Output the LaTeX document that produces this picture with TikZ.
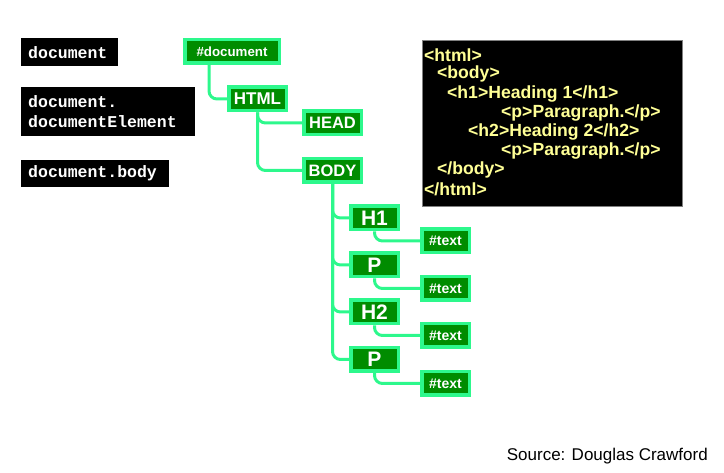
\documentclass[tikz,border=0pt]{standalone}
\usepackage{fontspec}
\setmainfont{Liberation Sans}
\setmonofont{Liberation Mono}
\definecolor{lgreen}{RGB}{45,248,140}
\definecolor{dgreen}{RGB}{0,140,0}
\definecolor{codey}{RGB}{255,255,150}
\tikzset{
  gnode/.style={draw=lgreen, line width=3.5pt, fill=dgreen, text=white, inner sep=0pt, minimum height=23.5pt},
  conn/.style={draw=lgreen, line width=3pt, rounded corners=8pt},
  blk/.style={fill=black, text=white, font=\ttfamily\bfseries\fontsize{16.5}{20}\selectfont, inner xsep=7pt, inner ysep=0pt, align=left, anchor=north west},
  codeline/.style={text=codey, font=\bfseries\fontsize{17.6}{19}\selectfont, inner sep=0pt, anchor=west}
}
\begin{document}
\begin{tikzpicture}[x=1pt,y=1pt]
\useasboundingbox (0,0) rectangle (724,-473);
% left labels
\node[blk, minimum width=97, minimum height=28, text width=83] (l1) at (21,-38) {document};
\node[blk, minimum width=174, minimum height=49, text width=160] (l2) at (21,-87) {document.\\documentElement};
\node[blk, minimum width=148, minimum height=27, text width=134] (l3) at (21,-160) {document.body};
% tree nodes
\node[gnode, minimum width=94.5, font=\bfseries\fontsize{13.3}{15}\selectfont] (doc) at (232,-51.5) {\#document};
\node[gnode, minimum width=57.5, font=\bfseries\fontsize{17}{19}\selectfont] (html) at (257.5,-99) {HTML};
\node[gnode, minimum width=57.5, font=\bfseries\fontsize{16.5}{19}\selectfont] (head) at (332.5,-123) {HEAD};
\node[gnode, minimum width=57.5, font=\bfseries\fontsize{16.5}{19}\selectfont] (body) at (332.5,-170.5) {BODY};
\node[gnode, minimum width=47.5, font=\bfseries\fontsize{21}{23}\selectfont] (h1) at (374.5,-218) {H1};
\node[gnode, minimum width=47.5, font=\bfseries\fontsize{21}{23}\selectfont] (p1) at (374.5,-265) {P};
\node[gnode, minimum width=47.5, font=\bfseries\fontsize{21}{23}\selectfont] (h2) at (374.5,-312) {H2};
\node[gnode, minimum width=47.5, font=\bfseries\fontsize{21}{23}\selectfont] (p2) at (374.5,-359.5) {P};
\node[gnode, minimum width=47.5, font=\bfseries\fontsize{14}{16}\selectfont] (t1) at (445.5,-241) {\#text};
\node[gnode, minimum width=47.5, font=\bfseries\fontsize{14}{16}\selectfont] (t2) at (445.5,-288.5) {\#text};
\node[gnode, minimum width=47.5, font=\bfseries\fontsize{14}{16}\selectfont] (t3) at (445.5,-335.5) {\#text};
\node[gnode, minimum width=47.5, font=\bfseries\fontsize{14}{16}\selectfont] (t4) at (445.5,-383.5) {\#text};
% connectors
\draw[conn] ([xshift=-23pt]doc.south) |- (html.west);
\draw[conn] (html.south) |- (head.west);
\draw[conn] (html.south) |- (body.west);
\draw[conn] (body.south) |- (h1.west);
\draw[conn] (body.south) |- (p1.west);
\draw[conn] (body.south) |- (h2.west);
\draw[conn] (body.south) |- (p2.west);
\draw[conn] (h1.south) |- (t1.west);
\draw[conn] (p1.south) |- (t2.west);
\draw[conn] (h2.south) |- (t3.west);
\draw[conn] (p2.south) |- (t4.west);
% code box
\node[fill=black, draw=gray, line width=0.8pt, minimum width=260, minimum height=166, anchor=north west, inner sep=0pt] (codebox) at (422,-40) {};
\node[codeline] (c1) at (424,-55) {<html>};
\node[codeline] (c2) at (437,-74) {<body>};
\node[codeline] (c3) at (447,-94) {<h1>Heading 1</h1>};
\node[codeline] (c4) at (501,-113) {<p>Paragraph.</p>};
\node[codeline] (c5) at (468,-132) {<h2>Heading 2</h2>};
\node[codeline] (c6) at (501,-151) {<p>Paragraph.</p>};
\node[codeline] (c7) at (437,-170) {</body>};
\node[codeline] (c8) at (424,-189) {</html>};
% source
\node[anchor=east, inner sep=0pt, font=\fontsize{17}{19}\selectfont] (src) at (708,-456) {Source: Douglas Crawford};
\end{tikzpicture}
\end{document}
